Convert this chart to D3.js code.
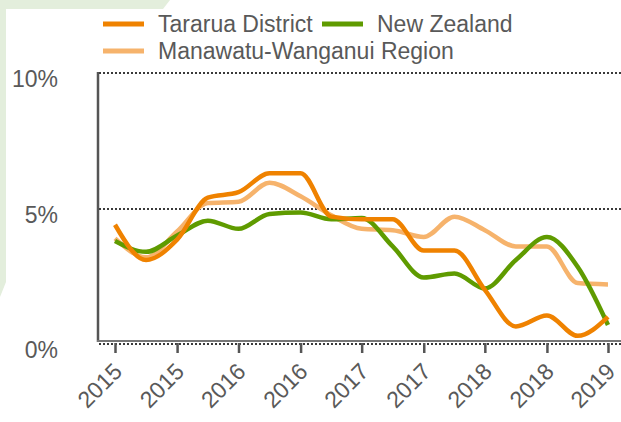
<!DOCTYPE html>
<html>
<head>
<meta charset="utf-8">
<script src="https://cdn.jsdelivr.net/npm/d3@7"></script>
<style>
  body { margin: 0; background: #fff; }
  svg { display: block; font-family: "Liberation Sans", Arial, sans-serif; }
</style>
</head>
<body>
<script>
// quarterly figures, Mar 2015 .. Mar 2019
var quarters = ["2015-03", "2015-06", "2015-09", "2015-12", "2016-03", "2016-06", "2016-09", "2016-12",
                "2017-03", "2017-06", "2017-09", "2017-12", "2018-03", "2018-06", "2018-09", "2018-12", "2019-03"];
var tararua  = [4.4, 3.1, 3.85, 5.4, 5.6, 6.3, 6.3, 4.7, 4.6, 4.6, 3.45, 3.45, 2.0, 0.65, 1.05, 0.3, 1.0];
var manawatu = [3.9, 3.2, 4.15, 5.2, 5.25, 5.95, 5.45, 4.75, 4.25, 4.2, 3.95, 4.7, 4.2, 3.6, 3.6, 2.25, 2.2];
var nz       = [3.8, 3.4, 4.0, 4.55, 4.25, 4.8, 4.85, 4.6, 4.65, 3.6, 2.45, 2.6, 2.05, 3.1, 3.95, 2.85, 0.7];
var yTicks = [0, 5, 10];

var W = 621, H = 422;
var parse = d3.timeParse("%Y-%m");
var dates = quarters.map(parse);

var svg = d3.select("body").append("svg")
    .attr("width", W)
    .attr("height", H);

// pale green frame peeking in at top-left
svg.append("path")
    .attr("d", "M0,0 L170,0 L163,9 L6,9 L6,282 L0,297 Z")
    .attr("fill", "#e3eedc");

var x = d3.scaleTime()
    .domain(d3.extent(dates))
    .range([115, 608]);

var y = d3.scaleLinear()
    .domain([0, 10])
    .range([344, 73]);

var textCol = "#595959";

// dotted gridlines
svg.selectAll("line.grid")
    .data(yTicks)
    .enter()
    .append("line")
    .attr("class", "grid")
    .attr("x1", 99)
    .attr("x2", W)
    .attr("y1", function(d) { return Math.round(y(d)); })
    .attr("y2", function(d) { return Math.round(y(d)); })
    .attr("stroke", "#3a3a3a")
    .attr("stroke-width", 2)
    .attr("stroke-dasharray", "2,2");

// y labels
svg.selectAll("text.ylab")
    .data(yTicks)
    .enter()
    .append("text")
    .attr("class", "ylab")
    .attr("x", 58)
    .attr("y", function(d) { return y(d) + 14; })
    .attr("text-anchor", "end")
    .attr("font-size", "23px")
    .attr("fill", textCol)
    .text(function(d) { return d + "%"; });

// axis lines
svg.append("line")
    .attr("x1", 98).attr("x2", 98)
    .attr("y1", 72).attr("y2", 342)
    .attr("stroke", "#555")
    .attr("stroke-width", 2.5);
svg.append("line")
    .attr("x1", 97).attr("x2", W)
    .attr("y1", 341).attr("y2", 341)
    .attr("stroke", "#777")
    .attr("stroke-width", 2);

// x ticks, every half year
var tickDates = dates.filter(function(d, i) { return i % 2 == 0; });
var xAxis = svg.append("g")
    .attr("transform", "translate(0,343)")
    .call(d3.axisBottom(x)
        .tickValues(tickDates)
        .tickSize(10)
        .tickFormat(d3.timeFormat("%Y")));
xAxis.select(".domain").remove();
xAxis.selectAll(".tick line")
    .attr("stroke", "#555")
    .attr("stroke-width", 2.5);
xAxis.selectAll(".tick text")
    .attr("font-size", "23px")
    .attr("font-family", "Liberation Sans, Arial, sans-serif")
    .attr("fill", textCol)
    .attr("text-anchor", "end")
    .attr("dy", null)
    .attr("y", 0)
    .attr("transform", "translate(8,30) rotate(-45)");

// lines
var series = [
    { name: "Manawatu-Wanganui Region", values: manawatu, color: "#f6b36c" },
    { name: "New Zealand", values: nz, color: "#5f9b00" },
    { name: "Tararua District", values: tararua, color: "#ef8200" }
];

var line = d3.line()
    .x(function(d, i) { return x(dates[i]); })
    .y(function(d) { return y(d); })
    .curve(d3.curveMonotoneX);

svg.selectAll("path.series")
    .data(series)
    .enter()
    .append("path")
    .attr("class", "series")
    .attr("d", function(d) { return line(d.values); })
    .attr("fill", "none")
    .attr("stroke", function(d) { return d.color; })
    .attr("stroke-width", 4.5)
    .attr("stroke-linejoin", "round");

// legend
var legend = [
    { name: "Tararua District", color: "#ef8200", x: 103, y: 24 },
    { name: "New Zealand", color: "#5f9b00", x: 322, y: 24 },
    { name: "Manawatu-Wanganui Region", color: "#f6b36c", x: 103, y: 51 }
];
var lg = svg.selectAll("g.legend")
    .data(legend)
    .enter()
    .append("g")
    .attr("class", "legend")
    .attr("transform", function(d) { return "translate(" + d.x + "," + d.y + ")"; });
lg.append("line")
    .attr("x1", 0).attr("x2", 41)
    .attr("stroke", function(d) { return d.color; })
    .attr("stroke-width", 5);
lg.append("text")
    .attr("x", 55)
    .attr("y", 8)
    .attr("font-size", "23px")
    .attr("fill", textCol)
    .text(function(d) { return d.name; });
</script>
</body>
</html>
